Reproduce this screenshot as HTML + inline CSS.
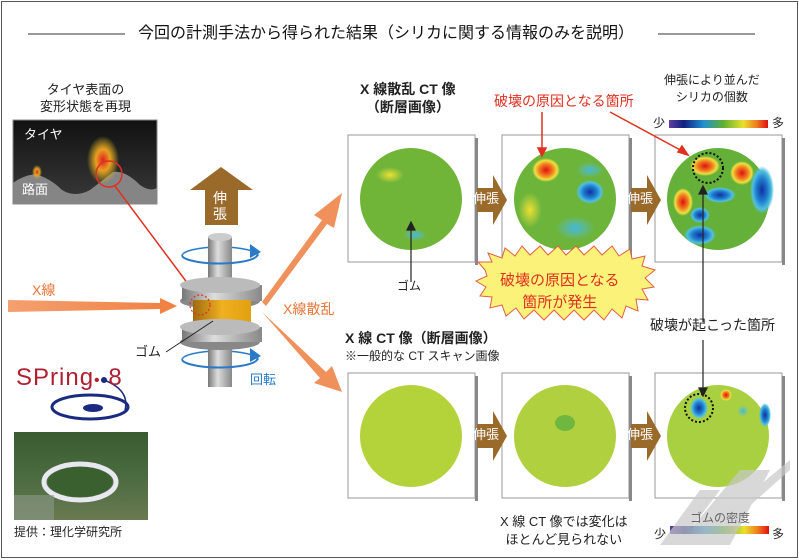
<!DOCTYPE html>
<html><head><meta charset="utf-8"><style>
*{margin:0;padding:0}
body{width:799px;height:560px;background:#fff;overflow:hidden;position:relative;font-family:"Liberation Sans","Noto Sans CJK JP",sans-serif;color:#222}
.t{position:absolute;white-space:nowrap;line-height:1}
</style></head><body>
<svg width="799" height="560" style="position:absolute;left:0;top:0">
<defs>
<radialGradient id="tire" cx="50%" cy="50%" r="50%"><stop offset="0" stop-color="#e02020"/><stop offset=".45" stop-color="#e8a020"/><stop offset="1" stop-color="#e0c020" stop-opacity="0"/></radialGradient>
<linearGradient id="cyl" x1="0" x2="1"><stop offset="0" stop-color="#777"/><stop offset=".4" stop-color="#ddd"/><stop offset="1" stop-color="#888"/></linearGradient>
<linearGradient id="rub" x1="0" x2="1"><stop offset="0" stop-color="#a06a10"/><stop offset=".5" stop-color="#f0b020"/><stop offset="1" stop-color="#e0a010"/></linearGradient>
<radialGradient id="hot" r="50%"><stop offset="0" stop-color="#e01010"/><stop offset=".5" stop-color="#f08020"/><stop offset=".8" stop-color="#f0e040"/><stop offset="1" stop-color="#f0e040" stop-opacity="0"/></radialGradient>
<radialGradient id="cold" r="50%"><stop offset="0" stop-color="#1030a0"/><stop offset=".5" stop-color="#2080d0"/><stop offset=".8" stop-color="#50c0e0"/><stop offset="1" stop-color="#50c0e0" stop-opacity="0"/></radialGradient>
<radialGradient id="cyan" r="50%"><stop offset="0" stop-color="#40b8e0"/><stop offset="1" stop-color="#60c0d0" stop-opacity="0"/></radialGradient>
<radialGradient id="yel" r="50%"><stop offset="0" stop-color="#f0e030"/><stop offset="1" stop-color="#e0e040" stop-opacity="0"/></radialGradient>
<linearGradient id="bar" x1="0" x2="1"><stop offset="0" stop-color="#6040a0"/><stop offset=".15" stop-color="#102080"/><stop offset=".35" stop-color="#2090d0"/><stop offset=".55" stop-color="#60b030"/><stop offset=".75" stop-color="#e8e030"/><stop offset=".88" stop-color="#f08020"/><stop offset="1" stop-color="#e01010"/></linearGradient>
<linearGradient id="xr" x1="0" x2="1"><stop offset="0" stop-color="#f4a070"/><stop offset="1" stop-color="#f08040"/></linearGradient>
<linearGradient id="photo" x1="0" y1="0" x2="0" y2="1"><stop offset="0" stop-color="#3a5a30"/><stop offset=".5" stop-color="#4a6a40"/><stop offset="1" stop-color="#6a7a50"/></linearGradient>
<linearGradient id="tbg" x1="0" y1="0" x2="0" y2="1"><stop offset="0" stop-color="#111"/><stop offset="1" stop-color="#3a3a3a"/></linearGradient>
</defs>
<rect x="1.5" y="1.5" width="796" height="556" fill="none" stroke="#555" stroke-width="1"/>
<line x1="28" y1="34" x2="125" y2="34" stroke="#333"/><line x1="658" y1="34" x2="755" y2="34" stroke="#333"/>
<!-- tire image -->
<rect x="13" y="120" width="144" height="84" fill="url(#tbg)" stroke="#888"/>
<path d="M13 183 Q22 176 35 174 Q50 178 62 190 Q75 198 90 190 Q103 180 113 172 Q125 170 140 185 Q150 192 157 188 L157 204 L13 204Z" fill="#858585"/>
<ellipse cx="103" cy="160" rx="16" ry="24" fill="url(#tire)"/>
<ellipse cx="37" cy="172" rx="5" ry="7" fill="url(#tire)"/>
<circle cx="109" cy="174" r="13" fill="none" stroke="#e03020" stroke-width="1.5"/>
<line x1="115" y1="186" x2="200" y2="300" stroke="#e03020" stroke-width="1.5"/>
<!-- up arrow -->
<polygon points="190,190 221,167 253,190 238,190 238,225 205,225 205,190" fill="#9a6a2a"/>
<!-- xray arrow -->
<polygon points="8,300 160,303 160,298 177,306 160,314 160,309 8,312" fill="url(#xr)"/>
<polygon points="262,302 322,220 314,215 342,193 334,228 327,224 266,306" fill="#f0905a"/>
<polygon points="262,312 326,372 332,366 342,392 314,383 320,378" fill="#f0905a"/>
<!-- rotation back halves -->
<path d="M182 256 A38 9 0 0 1 258 256" fill="none" stroke="#2a7ac8" stroke-width="1.5"/>
<path d="M182 360 A38 9 0 0 1 258 360" fill="none" stroke="#2a7ac8" stroke-width="1.5"/>
<!-- cylinder -->
<rect x="208" y="237" width="24" height="150" fill="url(#cyl)"/><ellipse cx="220" cy="237" rx="12" ry="4" fill="#ccc"/>
<ellipse cx="220" cy="301" rx="40" ry="8" fill="#888"/><rect x="182" y="285" width="80" height="16" fill="url(#cyl)"/><ellipse cx="220" cy="285" rx="40" ry="8" fill="#bbb"/>
<rect x="193" y="300" width="58" height="30" fill="url(#rub)"/>
<ellipse cx="220" cy="342" rx="40" ry="8" fill="#888"/><rect x="182" y="327" width="80" height="15" fill="url(#cyl)"/><ellipse cx="220" cy="327" rx="40" ry="8" fill="#bbb"/>
<circle cx="200" cy="305" r="10" fill="none" stroke="#e03020" stroke-dasharray="2,2" stroke-width="1.2"/>
<line x1="166" y1="352" x2="213" y2="321" stroke="#222"/>
<!-- rotation front halves -->
<path d="M182 256 A38 9 0 0 0 257 253" fill="none" stroke="#2a7ac8" stroke-width="2"/>
<polygon points="250,244 261,252 250,258" fill="#2a7ac8"/>
<path d="M182 360 A38 9 0 0 0 257 357" fill="none" stroke="#2a7ac8" stroke-width="2"/>
<polygon points="250,348 261,356 250,362" fill="#2a7ac8"/>
<!-- spring8 logo -->
<ellipse cx="90" cy="407" rx="38" ry="12" fill="none" stroke="#1a2a80" stroke-width="3"/>
<ellipse cx="93" cy="408" rx="10" ry="4" fill="#1a2a80"/>
<circle cx="104" cy="380" r="3" fill="#1a2a80"/>
<path d="M104 380 Q130 390 125 410" fill="none" stroke="#1a2a80" stroke-width="1.5"/>
<!-- photo -->
<rect x="14" y="432" width="134" height="88" fill="url(#photo)"/>
<ellipse cx="80" cy="482" rx="36" ry="18" fill="none" stroke="#e8e8f0" stroke-width="5"/>
<ellipse cx="80" cy="482" rx="32" ry="15" fill="#3a6030"/>
<rect x="14" y="495" width="40" height="25" fill="#8a9a8a" opacity=".6"/>
<!-- panels -->
<g fill="#fff" stroke="#999">
<rect x="348" y="135" width="127" height="127"/><rect x="502" y="135" width="127" height="127"/><rect x="655" y="135" width="127" height="127"/>
<rect x="348" y="373" width="127" height="125"/><rect x="502" y="373" width="127" height="125"/><rect x="655" y="373" width="127" height="125"/>
</g>
<g fill="#888"><rect x="475" y="138" width="3" height="127"/><rect x="629" y="138" width="3" height="127"/><rect x="782" y="138" width="3" height="127"/><rect x="475" y="376" width="3" height="125"/><rect x="629" y="376" width="3" height="125"/><rect x="782" y="376" width="3" height="125"/></g>
<circle cx="411" cy="199" r="51" fill="#70b438"/>
<circle cx="565" cy="199" r="51" fill="#6cb43a"/>
<circle cx="718" cy="199" r="51" fill="#64b038"/>
<circle cx="411" cy="436" r="51" fill="#b4d23a"/>
<circle cx="565" cy="436" r="51" fill="#b0d040"/>
<circle cx="718" cy="436" r="51" fill="#a8d040"/>
<!-- heat blobs -->
<ellipse cx="390" cy="175" rx="14" ry="8" fill="url(#yel)"/><ellipse cx="415" cy="235" rx="12" ry="6" fill="url(#cyan)"/>
<ellipse cx="546" cy="170" rx="14" ry="12" fill="url(#hot)"/><ellipse cx="590" cy="192" rx="14" ry="12" fill="url(#cold)"/><ellipse cx="530" cy="210" rx="12" ry="18" fill="url(#yel)"/><ellipse cx="575" cy="228" rx="20" ry="12" fill="url(#cyan)"/><ellipse cx="590" cy="170" rx="14" ry="8" fill="url(#cyan)"/>
<ellipse cx="705" cy="166" rx="15" ry="10" fill="url(#hot)"/><ellipse cx="742" cy="173" rx="12" ry="12" fill="url(#hot)"/><ellipse cx="683" cy="202" rx="10" ry="14" fill="url(#hot)"/><ellipse cx="762" cy="190" rx="12" ry="24" fill="url(#cold)"/><ellipse cx="720" cy="195" rx="16" ry="8" fill="url(#cold)"/><ellipse cx="700" cy="235" rx="16" ry="10" fill="url(#cold)"/><ellipse cx="700" cy="215" rx="10" ry="8" fill="url(#cold)"/>
<circle cx="708" cy="168" r="15" fill="none" stroke="#111" stroke-width="2" stroke-dasharray="2,2"/>
<ellipse cx="565" cy="423" rx="10" ry="8" fill="#60b040" opacity=".8"/>
<ellipse cx="699" cy="408" rx="9" ry="11" fill="url(#cold)"/><ellipse cx="726" cy="395" rx="6" ry="6" fill="url(#hot)"/><ellipse cx="743" cy="411" rx="6" ry="6" fill="url(#cyan)"/><ellipse cx="765" cy="415" rx="6" ry="12" fill="url(#cold)"/>
<circle cx="699" cy="408" r="14" fill="none" stroke="#111" stroke-width="2" stroke-dasharray="2,2"/>
<!-- brown arrows -->
<g fill="#9a6a2a"><polygon points="477,188 493,188 493,175 507,200 493,225 493,212 477,212"/><polygon points="631,188 647,188 647,175 661,200 647,225 647,212 631,212"/>
<polygon points="477,424 493,424 493,411 507,436 493,461 493,448 477,448"/><polygon points="631,424 647,424 647,411 661,436 647,461 647,448 631,448"/></g>
<!-- pointers -->
<g stroke="#222" stroke-width="1.2" fill="#222">
<line x1="411" y1="282" x2="411" y2="228"/><polygon points="407,230 415,230 411,222"/>
<line x1="703" y1="322" x2="703" y2="192"/><polygon points="699,194 707,194 703,186"/>
<line x1="703" y1="340" x2="703" y2="392"/><polygon points="699,388 707,388 703,396"/>
</g>
<g stroke="#e03020" stroke-width="1.5" fill="#e03020">
<line x1="542" y1="112" x2="542" y2="150"/><polygon points="538,148 546,148 542,156"/>
<line x1="610" y1="112" x2="684" y2="152"/><polygon points="678,152 688,155 682,146"/>
</g>
<rect x="669" y="120" width="99" height="8" fill="url(#bar)"/>
<rect x="610" y="526" width="99" height="8" fill="url(#bar)" transform="translate(60,0)"/>
<!-- starburst -->
<polygon fill="#fbf27a" stroke="#e06040" stroke-width="1" points="485,270 478,262 492,262 488,253 502,258 505,248 515,256 522,246 530,255 540,246 548,255 558,246 566,255 576,246 584,255 594,246 602,255 612,246 619,256 630,249 632,259 645,256 642,266 655,270 645,278 654,287 642,289 648,300 636,299 638,311 626,306 622,318 612,309 604,320 594,310 584,320 574,310 564,320 554,310 544,320 534,310 524,319 516,308 506,316 502,305 490,308 492,297 480,296 486,287 476,281 487,276"/>
<!-- watermark -->
<g fill="#c8c8c8" opacity=".7"><polygon points="660,545 700,490 720,490 690,530 740,470 770,470 730,545"/><polygon points="730,510 790,460 790,470 745,510"/></g>
</svg>
<div class="t" style="left:138px;top:26px;font-size:16px;color:#111">今回の計測手法から得られた結果（シリカに関する情報のみを説明）</div>
<div class="t" style="left:40px;top:81px;font-size:13px;text-align:center;line-height:17px">タイヤ表面の<br>変形状態を再現</div>
<div class="t" style="left:24px;top:128px;font-size:13px;color:#fff">タイヤ</div>
<div class="t" style="left:22px;top:183px;font-size:13px;color:#fff">路面</div>
<div class="t" style="left:213px;top:190px;font-size:14px;color:#fff;line-height:16px;width:16px">伸<br>張</div>
<div class="t" style="left:32px;top:283px;font-size:14px;color:#e8753a">X線</div>
<div class="t" style="left:283px;top:302px;font-size:14px;color:#e8753a">X線散乱</div>
<div class="t" style="left:135px;top:345px;font-size:13px">ゴム</div>
<div class="t" style="left:250px;top:373px;font-size:13px;color:#2a7ac8">回転</div>
<div class="t" style="left:16px;top:366px;font-size:24px;color:#b02030;letter-spacing:1px">SPring<span style="font-size:16px">•</span> 8</div>
<div class="t" style="left:14px;top:526px;font-size:12px">提供：理化学研究所</div>
<div class="t" style="left:360px;top:80px;font-size:14px;font-weight:bold;color:#222;text-align:center;line-height:18px">X 線散乱 CT 像<br>（断層画像）</div>
<div class="t" style="left:494px;top:94px;font-size:14px;color:#e03020">破壊の原因となる箇所</div>
<div class="t" style="left:664px;top:72px;font-size:12px;text-align:center;line-height:17px">伸張により並んだ<br>シリカの個数</div>
<div class="t" style="left:653px;top:117px;font-size:12px">少</div><div class="t" style="left:772px;top:117px;font-size:12px">多</div>
<div class="t" style="left:473px;top:192px;font-size:13px;color:#fff">伸張</div><div class="t" style="left:627px;top:192px;font-size:13px;color:#fff">伸張</div>
<div class="t" style="left:473px;top:428px;font-size:13px;color:#fff">伸張</div><div class="t" style="left:627px;top:428px;font-size:13px;color:#fff">伸張</div>
<div class="t" style="left:397px;top:280px;font-size:12px">ゴム</div>
<div class="t" style="left:500px;top:270px;font-size:15px;color:#e03020;text-align:center;line-height:22px">破壊の原因となる<br>箇所が発生</div>
<div class="t" style="left:650px;top:318px;font-size:14px">破壊が起こった箇所</div>
<div class="t" style="left:345px;top:331px;font-size:14px;font-weight:bold">X 線 CT 像（断層画像）</div>
<div class="t" style="left:345px;top:350px;font-size:12px">※一般的な CT スキャン画像</div>
<div class="t" style="left:500px;top:513px;font-size:13px;text-align:center;line-height:18px">X 線 CT 像では変化は<br>ほとんど見られない</div>
<div class="t" style="left:690px;top:512px;font-size:12px;color:#666">ゴムの密度</div>
<div class="t" style="left:654px;top:528px;font-size:12px">少</div><div class="t" style="left:772px;top:528px;font-size:12px">多</div>
</body></html>
